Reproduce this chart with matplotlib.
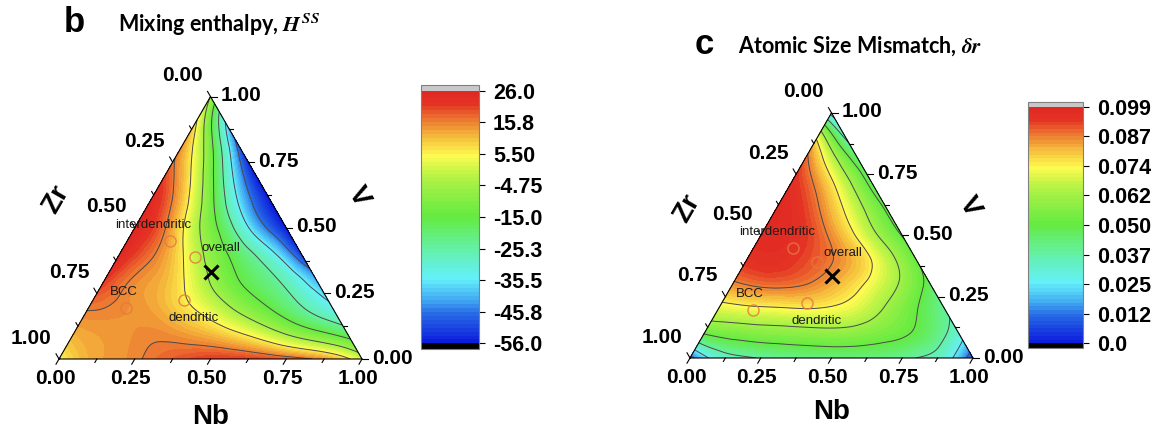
import numpy as np
import matplotlib
matplotlib.use("Agg")
import matplotlib.pyplot as plt
import matplotlib.tri as mtri
from matplotlib.colors import LinearSegmentedColormap

plt.rcParams["font.family"] = ["Liberation Sans", "DejaVu Sans"]
plt.rcParams["mathtext.fontset"] = "custom"
plt.rcParams["mathtext.it"] = "STIXGeneral:italic:bold"
plt.rcParams["mathtext.rm"] = "STIXGeneral:bold"

STEP = 0.1  # composition step of the value grids below

# Mixing enthalpy H^SS. One row per V fraction (0.0 .. 1.0),
# inside a row Nb goes 0.0, 0.1, ... (Zr = 1 - Nb - V)
HSS_ROWS = [
    [5, 12, 14, 16.5, 19, 21, 21, 19.5, 17, 12, 0],
    [12, 13.5, 14.5, 14.5, 12, 8, 2, -6, -13, -20],
    [16.5, 15, 13, 8, 1, -8, -16, -25, -34],
    [21, 15, 11, 1, -11, -19, -28, -41],
    [25, 17, 7, -8, -20, -33, -52],
    [26, 16, -2, -20, -40, -56],
    [25, 11, -12, -38, -56],
    [20, 2, -28, -56],
    [14, -12, -50],
    [7, -36],
    [-5],
]

# Atomic size mismatch delta r, same layout
DR_ROWS = [
    [0.008, 0.030, 0.036, 0.039, 0.041, 0.042, 0.042, 0.041, 0.037, 0.030, 0.005],
    [0.050, 0.054, 0.056, 0.057, 0.058, 0.058, 0.055, 0.051, 0.044, 0.030],
    [0.070, 0.072, 0.073, 0.074, 0.073, 0.069, 0.060, 0.050, 0.039],
    [0.085, 0.088, 0.088, 0.085, 0.079, 0.071, 0.060, 0.046],
    [0.094, 0.095, 0.092, 0.087, 0.079, 0.066, 0.050],
    [0.097, 0.096, 0.090, 0.079, 0.064, 0.049],
    [0.098, 0.093, 0.081, 0.065, 0.048],
    [0.096, 0.085, 0.067, 0.046],
    [0.090, 0.068, 0.044],
    [0.072, 0.035],
    [0.020],
]

HSS_TICKS = [-56.0, -45.75, -35.5, -25.25, -15.0, -4.75, 5.5, 15.75, 26.0]
HSS_TICK_LABELS = ["-56.0", "-45.8", "-35.5", "-25.3", "-15.0", "-4.75", "5.50", "15.8", "26.0"]
DR_TICKS = [0.0, 0.012375, 0.02475, 0.037125, 0.0495, 0.061875, 0.07425, 0.086625, 0.099]
DR_TICK_LABELS = ["0.0", "0.012", "0.025", "0.037", "0.050", "0.062", "0.074", "0.087", "0.099"]

AXIS_TICKS = [0.0, 0.25, 0.5, 0.75, 1.0]
AXIS_TICK_LABELS = ["0.00", "0.25", "0.50", "0.75", "1.00"]
MINOR_TICKS = [0.125, 0.375, 0.625, 0.875]

# measured compositions (Nb, V fractions)
MARK_NAMES = ["interdendritic", "overall", "dendritic", "BCC"]
MARK_NB = [0.14, 0.255, 0.30, 0.125]
MARK_V = [0.45, 0.39, 0.225, 0.195]
EQUI_NB = [1 / 3]
EQUI_V = [1 / 3]

H = np.sqrt(3) / 2
W, HGT = 1156, 436

cmap = LinearSegmentedColormap.from_list("origin_rainbow", [
    (0.0, (10 / 255, 25 / 255, 220 / 255)),
    (0.124, (40 / 255, 110 / 255, 230 / 255)),
    (0.163, (60 / 255, 160 / 255, 240 / 255)),
    (0.255, (100 / 255, 240 / 255, 250 / 255)),
    (0.373, (100 / 255, 240 / 255, 170 / 255)),
    (0.503, (100 / 255, 235 / 255, 65 / 255)),
    (0.627, (160 / 255, 240 / 255, 70 / 255)),
    (0.686, (200 / 255, 245 / 255, 70 / 255)),
    (0.745, (255 / 255, 250 / 255, 80 / 255)),
    (0.817, (245 / 255, 190 / 255, 60 / 255)),
    (0.882, (238 / 255, 125 / 255, 50 / 255)),
    (0.95, (228 / 255, 50 / 255, 36 / 255)),
    (1.0, (225 / 255, 40 / 255, 35 / 255)),
])
cmap.set_over("#c8c8c8")
cmap.set_under("black")


def tern(nb, v):
    nb = np.asarray(nb, dtype=float)
    v = np.asarray(v, dtype=float)
    return nb + v / 2, v * H


def grid(rows):
    xs, ys, zs = [], [], []
    for i, row in enumerate(rows):
        for j, val in enumerate(row):
            x, y = tern(j * STEP, i * STEP)
            xs.append(float(x))
            ys.append(float(y))
            zs.append(val)
    return np.array(xs), np.array(ys), np.array(zs, dtype=float)


def ternary_panel(rect, side, rows, ticks, lo, hi, cbar_rect, tick_labels, extfrac):
    ax = fig.add_axes([rect[0] / W, rect[1] / HGT, side / W, side * H / HGT])
    ax.set_xlim(0, 1)
    ax.set_ylim(0, H)
    ax.axis("off")
    px = 1.0 / side  # one pixel in data units

    x, y, z = grid(rows)
    tri = mtri.Triangulation(x, y)
    refiner = mtri.UniformTriRefiner(tri)
    tri_f, z_f = refiner.refine_field(z, subdiv=4)
    z_f = np.clip(z_f, lo + 1e-9, hi - 1e-9)

    levels = np.linspace(lo, hi, 65)
    cs = ax.tricontourf(tri_f, z_f, levels=levels, cmap=cmap, extend="both")
    ax.tricontour(tri_f, z_f, levels=ticks[1:-1], colors="#4a4a4a",
                  linewidths=0.7, linestyles="solid")

    ax.plot([0, 1, 0.5, 0], [0, 0, H, 0], color="black", lw=0.8, clip_on=False)

    # axis ticks
    for t in AXIS_TICKS + MINOR_TICKS:
        ln = (6 if t in AXIS_TICKS else 4) * px
        bx, by = tern(t, 0)
        ax.plot([bx, bx - 0.5 * ln], [by, by - H * ln], color="black", lw=0.8, clip_on=False)
        rx, ry = tern(1 - t, t)
        ax.plot([rx, rx + ln], [ry, ry], color="black", lw=0.8, clip_on=False)
        lx, ly = tern(0, 1 - t)
        ax.plot([lx, lx - 0.5 * ln], [ly, ly + H * ln], color="black", lw=0.8, clip_on=False)

    tk = dict(fontsize=15, fontweight="bold", textcoords="offset pixels", annotation_clip=False)
    for t, lab in zip(AXIS_TICKS, AXIS_TICK_LABELS):
        ax.annotate(lab, tern(t, 0), xytext=(-4, -19), ha="center", va="center", **tk)
        ax.annotate(lab, tern(1 - t, t), xytext=(10, 1), ha="left", va="center", **tk)
        ax.annotate(lab, tern(0, 1 - t), xytext=(-28, 21), ha="center", va="center", **tk)

    ax.text(-0.009, 0.527, "Zr", fontsize=20, fontweight="bold", rotation=60,
            ha="center", va="center", rotation_mode="anchor")
    ax.text(0.988, 0.535, "V", fontsize=20, fontweight="bold", rotation=-60,
            ha="center", va="center", rotation_mode="anchor")
    ax.text(0.5, -0.192, "Nb", fontsize=20, fontweight="bold", ha="center", va="center")

    # measured points
    mx, my = tern(MARK_NB, MARK_V)
    ax.plot(mx, my, "o", ms=8, mfc="none", mec=(0.9, 0.47, 0.25), mew=1.0, alpha=0.85)
    ex, ey = tern(EQUI_NB, EQUI_V)
    ax.plot(ex, ey, "x", ms=10, mew=2.2, color="black")
    offsets = [(-16, 16), (26, 9), (10, -18), (-3, 16)]
    for name, xx, yy, off in zip(MARK_NAMES, mx, my, offsets):
        ax.annotate(name, (xx, yy), xytext=off, textcoords="offset pixels",
                    ha="center", va="center", fontsize=9.5, color="#1a1a1a")

    cax = fig.add_axes([cbar_rect[0] / W, cbar_rect[1] / HGT, cbar_rect[2] / W, cbar_rect[3] / HGT])
    cbar = fig.colorbar(cs, cax=cax, extendrect=True, extendfrac=extfrac)
    cbar.set_ticks(ticks, labels=tick_labels)
    cbar.minorticks_off()
    cbar.ax.tick_params(labelsize=15.5, length=4, width=0.8, pad=6)
    for lab in cbar.ax.get_yticklabels():
        lab.set_fontweight("bold")
    cbar.outline.set_edgecolor("#808080")
    cbar.outline.set_linewidth(0.8)
    return ax


fig = plt.figure(figsize=(W / 100, HGT / 100), dpi=100)

ternary_panel((59, 436 - 359), 303, HSS_ROWS, HSS_TICKS, -56.0, 26.0,
              (421, 436 - 349, 58, 264), HSS_TICK_LABELS, 0.022)
ternary_panel((690, 436 - 358), 283, DR_ROWS, DR_TICKS, 0.0, 0.099,
              (1028, 436 - 348, 55, 246), DR_TICK_LABELS, 0.02)

fig.text(74 / W, 1 - 22 / HGT, "b", fontsize=25, fontweight="bold", ha="center", va="center")
fig.text(118 / W, 1 - 25 / HGT, r"Mixing enthalpy, $H^{SS}$", fontsize=15.5,
         fontweight="bold", family=["Lato", "DejaVu Sans"], ha="left", va="center")
fig.text(704 / W, 1 - 44 / HGT, "c", fontsize=25, fontweight="bold", ha="center", va="center")
fig.text(738 / W, 1 - 46 / HGT, r"Atomic Size Mismatch, $\delta r$", fontsize=15.5,
         fontweight="bold", family=["Lato", "DejaVu Sans"], ha="left", va="center")

fig.savefig("out.png", dpi=100)
